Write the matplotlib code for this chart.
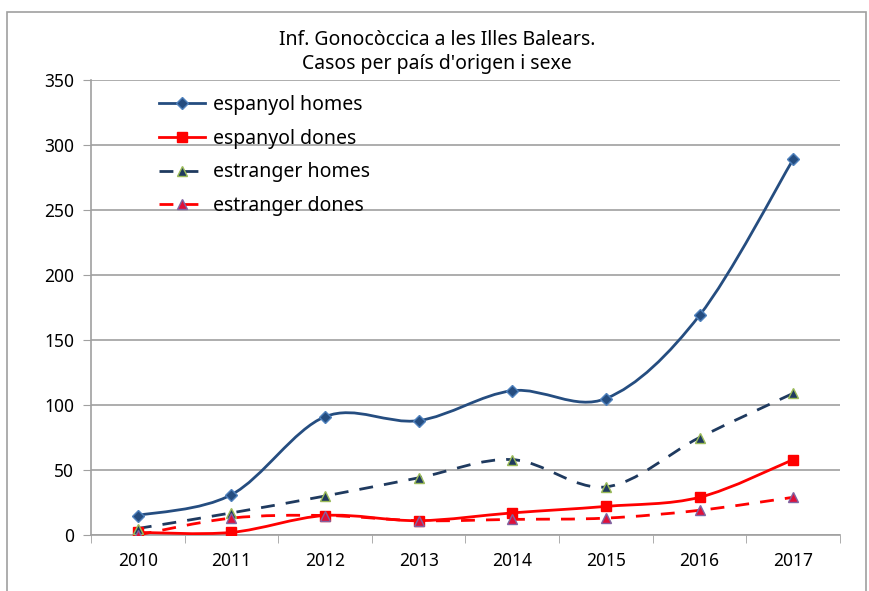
import matplotlib.pyplot as plt
import numpy as np
from matplotlib.path import Path
from matplotlib.patches import PathPatch, Rectangle
from matplotlib.lines import Line2D

plt.rcParams['font.family'] = ['Noto Sans', 'DejaVu Sans']

years = ['2010', '2011', '2012', '2013', '2014', '2015', '2016', '2017']
espanyol_homes = [15, 31, 91, 88, 111, 105, 169, 289]
espanyol_dones = [2, 2, 15, 11, 17, 22, 29, 58]
estranger_homes = [5, 17, 30, 44, 58, 37, 75, 109]
estranger_dones = [0, 13, 15, 11, 12, 13, 19, 29]

title = "Inf. Gonocòccica a les Illes Balears.\nCasos per país d'origen i sexe"


def smooth_path(x, y):
    # Excel-like smoothed line: cubic Bezier through each point
    pts = np.column_stack([x, y]).astype(float)
    n = len(pts)
    verts = [pts[0]]
    codes = [Path.MOVETO]
    for i in range(n - 1):
        p0 = pts[i - 1] if i > 0 else pts[i]
        p1 = pts[i]
        p2 = pts[i + 1]
        p3 = pts[i + 2] if i + 2 < n else pts[i + 1]
        c1 = p1 + (p2 - p0) / 6.0
        c2 = p2 - (p3 - p1) / 6.0
        verts += [c1, c2, p2]
        codes += [Path.CURVE4] * 3
    return Path(verts, codes)


series = [
    ('espanyol homes', espanyol_homes, '#254D80', '-', 'D', '#254D80', '#4F81BD', 6),
    ('espanyol dones', espanyol_dones, '#FF0000', '-', 's', '#FF0000', '#FF0000', 6.5),
    ('estranger homes', estranger_homes, '#1F3A5F', (0, (5, 4)), '^', '#1F3A5F', '#9BBB59', 7.5),
    ('estranger dones', estranger_dones, '#FF0000', (0, (5, 4)), '^', '#E0103A', '#8064A2', 6.5),
]

fig = plt.figure(figsize=(8.7, 5.91), dpi=100)
fig.patches.append(Rectangle((7 / 870, -0.1), 859 / 870, 1.1 - 12 / 591,
                             transform=fig.transFigure, fill=False,
                             edgecolor='#A0A0A0', linewidth=1.2))
ax = fig.add_axes([91 / 870, 56 / 591, 749 / 870, 455 / 591])

x = np.arange(len(years))
handles = []
for label, vals, color, ls, mk, mfc, mec, ms in series:
    patch = PathPatch(smooth_path(x, vals), facecolor='none', edgecolor=color,
                      linewidth=2, linestyle=ls, zorder=3)
    ax.add_patch(patch)
    ax.plot(x, vals, linestyle='none', marker=mk, markersize=ms,
            markerfacecolor=mfc, markeredgecolor=mec, markeredgewidth=1, zorder=4)
    handles.append(Line2D([], [], color=color, linewidth=2, linestyle=ls, marker=mk,
                          markersize=ms, markerfacecolor=mfc, markeredgecolor=mec))

ax.set_xlim(-0.5, len(years) - 0.5)
ax.set_ylim(0, 350)
ax.set_yticks(np.arange(0, 351, 50))
ax.set_xticks(x)
ax.set_xticklabels(years)
ax.set_xticks(np.arange(-0.5, len(years), 1), minor=True)
ax.tick_params(axis='x', which='major', length=0, pad=12, labelsize=12.5)
ax.tick_params(axis='x', which='minor', length=6, color='#A0A0A0', direction='out')
ax.tick_params(axis='y', length=6, color='#A0A0A0', labelsize=12.5, pad=6)
ax.grid(axis='y', color='#A0A0A0', linewidth=1.2)
ax.set_axisbelow(True)
for s in ['top', 'right']:
    ax.spines[s].set_visible(False)
for s in ['left', 'bottom']:
    ax.spines[s].set_color('#A0A0A0')
    ax.spines[s].set_linewidth(1.2)

fig.text(437 / 870, 1 - 52 / 591, title, ha='center', va='center',
         fontsize=14, linespacing=1.25)

ax.legend(handles, [s[0] for s in series], loc='upper left',
          bbox_to_anchor=(0.067, 1.005), frameon=False, fontsize=14,
          handlelength=2.4, labelspacing=0.7, handletextpad=0.4)

fig.savefig('out.png', dpi=100)
